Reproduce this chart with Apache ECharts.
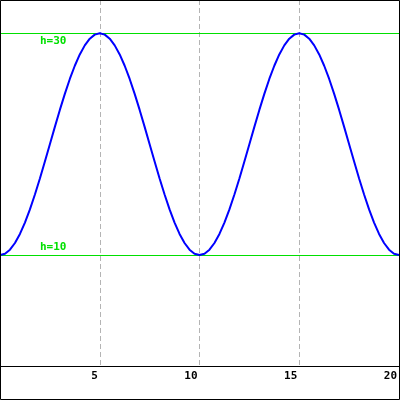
<!DOCTYPE html>
<html>
<head>
<meta charset="utf-8">
<script src="https://cdn.jsdelivr.net/npm/echarts@6/dist/echarts.min.js"></script>
<style>html,body{margin:0;padding:0;background:#fff;}#c{width:400px;height:400px;}</style>
</head>
<body>
<div id="c"></div>
<script>
var xValues = [0,0.25,0.5,0.75,1,1.25,1.5,1.75,2,2.25,2.5,2.75,3,3.25,3.5,3.75,4,4.25,4.5,4.75,
  5,5.25,5.5,5.75,6,6.25,6.5,6.75,7,7.25,7.5,7.75,8,8.25,8.5,8.75,9,9.25,9.5,9.75,
  10,10.25,10.5,10.75,11,11.25,11.5,11.75,12,12.25,12.5,12.75,13,13.25,13.5,13.75,14,14.25,14.5,14.75,
  15,15.25,15.5,15.75,16,16.25,16.5,16.75,17,17.25,17.5,17.75,18,18.25,18.5,18.75,19,19.25,19.5,19.75,20];
var hValues = [10,10.12,10.49,11.09,11.91,12.93,14.12,15.46,16.91,18.44,20,21.56,23.09,24.54,25.88,27.07,28.09,28.91,29.51,29.88,
  30,29.88,29.51,28.91,28.09,27.07,25.88,24.54,23.09,21.56,20,18.44,16.91,15.46,14.12,12.93,11.91,11.09,10.49,10.12,
  10,10.12,10.49,11.09,11.91,12.93,14.12,15.46,16.91,18.44,20,21.56,23.09,24.54,25.88,27.07,28.09,28.91,29.51,29.88,
  30,29.88,29.51,28.91,28.09,27.07,25.88,24.54,23.09,21.56,20,18.44,16.91,15.46,14.12,12.93,11.91,11.09,10.49,10.12,10];
var refLevels = [30, 10];
var refLabels = ['h=30', 'h=10'];
var xTicks = [5, 10, 15, 20];

var chart = echarts.init(document.getElementById('c'));
var font = '"DejaVu Sans Mono", monospace';
var green = '#00e000';
var data = xValues.map(function (x, i) { return [x, hValues[i]]; });
chart.setOption({
  animation: false,
  backgroundColor: '#fff',
  grid: { left: 0, right: 0, top: 0, bottom: 34, containLabel: false },
  xAxis: {
    type: 'value', min: 0, max: 20, interval: 5,
    axisLine: { show: true, lineStyle: { color: '#000', width: 1 } },
    axisTick: { show: false },
    axisLabel: {
      showMinLabel: false, color: '#000', fontFamily: font, fontWeight: 'bold', fontSize: 11,
      align: 'right', margin: 5, padding: [0, 2, 0, 0],
      formatter: function (v) { return xTicks.indexOf(v) >= 0 ? String(v) : ''; }
    },
    splitLine: { show: true, lineStyle: { color: '#b4b4b4', type: [5, 3], width: 1 } }
  },
  yAxis: {
    type: 'value', min: 0, max: 33,
    axisLine: { show: false }, axisTick: { show: false }, axisLabel: { show: false },
    splitLine: { show: false }
  },
  graphic: [{
    type: 'rect', shape: { x: 0.5, y: 0.5, width: 399, height: 399 },
    style: { fill: 'none', stroke: '#000', lineWidth: 1 }, z: 100
  }],
  series: [{
    type: 'line', data: data, showSymbol: false, smooth: false,
    lineStyle: { color: '#0000ff', width: 2 },
    z: 5,
    markLine: {
      silent: true, symbol: 'none',
      lineStyle: { color: green, type: 'solid', width: 1 },
      data: [
        { yAxis: refLevels[0], label: { formatter: refLabels[0], position: 'insideStartBottom', distance: [40, 2] } },
        { yAxis: refLevels[1], label: { formatter: refLabels[1], position: 'insideStartTop', distance: [40, 2] } }
      ],
      label: { color: green, fontFamily: font, fontWeight: 'bold', fontSize: 11 }
    }
  }]
});
</script>
</body>
</html>
